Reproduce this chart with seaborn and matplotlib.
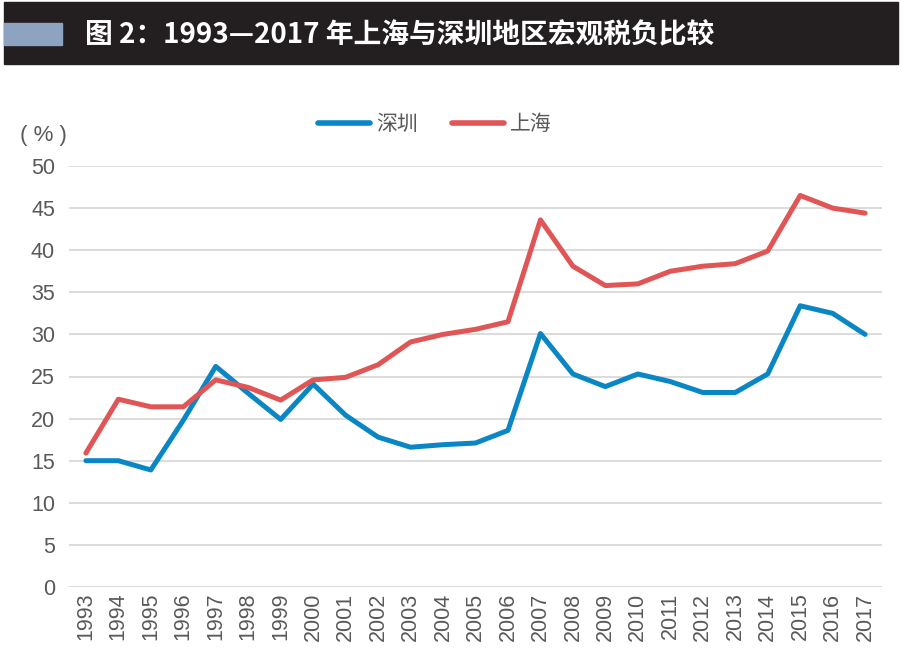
import pandas as pd
import seaborn as sns
import matplotlib.pyplot as plt
from matplotlib.patches import Rectangle

years = [str(y) for y in range(1993, 2018)]
shenzhen = [15.0, 15.0, 13.9, 19.8, 26.2, 23.0, 19.9, 24.1, 20.4, 17.8, 16.6, 16.9, 17.1,
            18.6, 30.1, 25.3, 23.8, 25.3, 24.4, 23.1, 23.1, 25.3, 33.4, 32.5, 30.0]
shanghai = [15.9, 22.3, 21.4, 21.4, 24.6, 23.7, 22.2, 24.6, 24.9, 26.4, 29.1, 30.0, 30.6,
            31.5, 43.6, 38.1, 35.8, 36.0, 37.5, 38.1, 38.4, 39.9, 46.5, 45.0, 44.4]
series = ['深圳', '上海']
colors = ['#0a86c4', '#e05555']

df = pd.DataFrame({'year': years * 2,
                   'value': shenzhen + shanghai,
                   'city': [series[0]] * len(years) + [series[1]] * len(years)})

sns.set_theme(style='white')
plt.rcParams['font.family'] = ['Noto Sans CJK SC', 'DejaVu Sans']

fig = plt.figure(figsize=(9.02, 6.49), dpi=100)
ax = fig.add_axes([69 / 902, 1 - 587 / 649, (882 - 69) / 902, (587 - 166) / 649])

sns.lineplot(data=df, x='year', y='value', hue='city', palette=colors, linewidth=3.6,
             ax=ax, sort=False)

ax.set_ylim(0, 50)
ax.set_xlim(-0.52, len(years) - 0.48)
ax.set_yticks(range(0, 51, 5))
ax.yaxis.grid(True, color='#d9d9d9', linewidth=1.3)
ax.set_axisbelow(True)
for s in ax.spines.values():
    s.set_visible(False)
ax.tick_params(length=0, colors='#595959', labelsize=15.5)
ax.tick_params(axis='y', pad=10)
ax.tick_params(axis='x', pad=4)
plt.setp(ax.get_xticklabels(), rotation=90, family=['Liberation Sans'])
plt.setp(ax.get_yticklabels(), family=['Liberation Sans'])
ax.set_xlabel('')
ax.set_ylabel('')

leg = ax.legend(loc='center', bbox_to_anchor=((435 - 69) / 813, 1 + (166 - 124) / 421),
                ncol=2, frameon=False, fontsize=15, handlelength=2.5, columnspacing=1.6,
                handletextpad=0.3, borderpad=0)
for t in leg.get_texts():
    t.set_color('#595959')
for h in leg.get_lines():
    h.set_linewidth(4)

fig.text(43 / 902, 1 - 136 / 649, '( % )', ha='center', va='center', fontsize=16,
         color='#595959', family=['Liberation Sans'])

# title bar
fig.patches.append(Rectangle((4 / 902, 1 - 64 / 649), 894 / 902, 62 / 649,
                             transform=fig.transFigure, color='#231f20', zorder=0))
fig.patches.append(Rectangle((4 / 902, 1 - 45 / 649), 58 / 902, 22 / 649,
                             transform=fig.transFigure, color='#8ea3bf', zorder=1))
fig.text(85 / 902, 1 - 35 / 649, '图 2：1993—2017 年上海与深圳地区宏观税负比较',
         ha='left', va='center', fontsize=20, fontweight='bold', color='white')

fig.savefig('out.png', dpi=100)
